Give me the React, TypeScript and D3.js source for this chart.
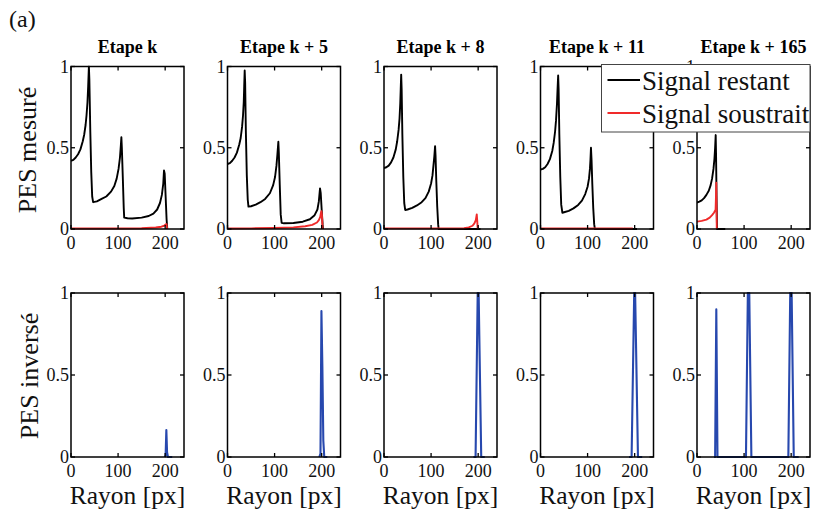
import React from "react";
import * as d3 from "d3";

type Pt = [number, number];

const panelTitles = ["Etape k", "Etape k + 5", "Etape k + 8", "Etape k + 11", "Etape k + 165"];
const xTicks = [0, 100, 200];
const yTicks = [0, 0.5, 1];
const yTickLabels = ["0", "0.5", "1"];
const legendLabels = ["Signal restant", "Signal soustrait"];
const yLabelTop = "PES mesuré";
const yLabelBottom = "PES inversé";
const xLabel = "Rayon [px]";
const figLabel = "(a)";

// Signal restant (black), top row
const restantK: Pt[] = [
  [0, 0.42], [5, 0.425], [10, 0.44], [15, 0.46], [20, 0.49], [25, 0.54], [28, 0.58], [31, 0.64],
  [33, 0.7], [35, 0.78], [36.5, 0.88], [38, 1.0], [39, 0.92], [41, 0.6], [43, 0.35], [45, 0.2],
  [47, 0.165], [55, 0.17], [65, 0.185], [75, 0.2], [85, 0.23], [92, 0.265], [97, 0.31], [101, 0.37],
  [104, 0.44], [106, 0.52], [107, 0.565], [108, 0.5], [110, 0.32], [112, 0.13], [113, 0.07],
  [120, 0.066], [130, 0.065], [150, 0.07], [165, 0.08], [175, 0.095], [183, 0.12], [189, 0.16],
  [193, 0.21], [196, 0.28], [197.5, 0.36], [199, 0.34], [201, 0.2], [203, 0.06], [204.5, 0],
];
const restantK5: Pt[] = [
  [0, 0.4], [5, 0.405], [10, 0.42], [15, 0.44], [20, 0.47], [25, 0.52], [28, 0.56], [31, 0.63],
  [33, 0.7], [34.5, 0.78], [35.5, 0.88], [36.5, 0.975], [37.5, 0.9], [39, 0.6], [41, 0.33],
  [43, 0.18], [44.5, 0.138], [50, 0.14], [60, 0.15], [70, 0.165], [80, 0.185], [90, 0.22],
  [97, 0.27], [101, 0.32], [104, 0.39], [106, 0.46], [108, 0.537], [109, 0.47], [111, 0.27],
  [113, 0.09], [115, 0.038], [120, 0.035], [140, 0.037], [160, 0.045], [175, 0.06], [185, 0.085],
  [191, 0.12], [194, 0.17], [196.5, 0.25], [198, 0.22], [200, 0.12], [202, 0.03], [203, 0],
];
const restantK8: Pt[] = [
  [0, 0.375], [5, 0.38], [10, 0.39], [15, 0.41], [20, 0.44], [25, 0.49], [28, 0.54], [31, 0.61],
  [33, 0.68], [34.5, 0.77], [35.5, 0.86], [36.5, 0.95], [37.5, 0.86], [39, 0.58], [41, 0.32],
  [43, 0.16], [45, 0.117], [50, 0.12], [60, 0.13], [70, 0.145], [80, 0.165], [88, 0.19],
  [95, 0.23], [100, 0.28], [103, 0.33], [105, 0.39], [107, 0.45], [108.5, 0.51], [109.5, 0.45],
  [111, 0.3], [113, 0.14], [115, 0.03], [116, 0], [205, 0],
];
const restantK11: Pt[] = [
  [0, 0.366], [5, 0.37], [10, 0.38], [15, 0.4], [20, 0.43], [25, 0.48], [28, 0.53], [31, 0.6],
  [33, 0.67], [35, 0.77], [36.2, 0.86], [37.5, 0.945], [38.5, 0.86], [40, 0.58], [42, 0.32],
  [44, 0.15], [46.5, 0.1], [50, 0.103], [60, 0.112], [70, 0.127], [80, 0.148], [88, 0.175],
  [95, 0.215], [100, 0.26], [103, 0.31], [105, 0.37], [106.2, 0.43], [107.2, 0.5], [108.5, 0.42],
  [110, 0.28], [112, 0.13], [114, 0.03], [115.5, 0], [205, 0],
];
const restantK165: Pt[] = [
  [0, 0.163], [5, 0.168], [10, 0.176], [15, 0.19], [20, 0.21], [25, 0.235], [29, 0.27],
  [32, 0.31], [35, 0.37], [37, 0.43], [38.5, 0.5], [39.7, 0.578], [40.5, 0.45], [41.5, 0.2],
  [42.5, 0], [60, 0],
];

// Signal soustrait (red), top row
const soustraitK: Pt[] = [
  [0, 0.003], [100, 0.003], [150, 0.005], [180, 0.009], [192, 0.014], [198, 0.02], [201, 0.028],
  [203, 0.03], [204, 0],
];
const soustraitK5: Pt[] = [
  [0, 0.003], [50, 0.004], [100, 0.006], [140, 0.01], [165, 0.017], [180, 0.025], [190, 0.04],
  [194, 0.055], [197, 0.075], [198.5, 0.1], [199.5, 0.11], [200.5, 0.09], [201.5, 0.03], [202, 0],
];
const soustraitK8: Pt[] = [
  [0, 0.004], [100, 0.004], [170, 0.005], [180, 0.01], [188, 0.02], [192, 0.035], [195, 0.055],
  [197, 0.09], [198, 0.05], [199, 0],
];
const soustraitK11: Pt[] = [
  [0, 0.003], [100, 0.003], [196, 0.003],
];
const soustraitK165: Pt[] = [
  [0, 0.045], [10, 0.05], [20, 0.058], [27, 0.07], [32, 0.085], [36, 0.1], [39.5, 0.118],
  [40.3, 0.2], [41, 0.285], [41.6, 0.1], [42, 0],
];

// PES inversé (blue), bottom row
const inverseK: Pt[] = [
  [199, 0], [201, 0.01], [202.5, 0.165], [204, 0.03], [206, 0], [215, 0],
];
const inverseK5: Pt[] = [
  [195, 0], [197.5, 0.02], [199.5, 0.89], [201.5, 0.55], [203.5, 0.1], [205.5, 0], [212, 0],
];
const inverseK8: Pt[] = [
  [190, 0], [194.5, 0], [199, 1.0], [201, 1.0], [206.5, 0], [214, 0],
];
const inverseK11: Pt[] = [
  [188, 0], [193.5, 0], [199, 1.0], [201, 1.0], [207, 0], [216, 0],
];
const inverseK165: Pt[] = [
  [36, 0], [38.5, 0], [41, 0.9], [43.5, 0], [104, 0], [108, 1.0], [111, 1.0], [115.5, 0],
  [194, 0], [198, 1.0], [201, 1.0], [205.5, 0], [216, 0],
];

const restantSeries = [restantK, restantK5, restantK8, restantK11, restantK165];
const soustraitSeries = [soustraitK, soustraitK5, soustraitK8, soustraitK11, soustraitK165];
const inverseSeries = [inverseK, inverseK5, inverseK8, inverseK11, inverseK165];

const W = 813;
const H = 518;
const panelLeft0 = 71;
const panelStep = 156.5;
const panelW = 113;
const rows = [
  { top: 66.5, bottom: 229, tickBase: 249 },
  { top: 293, bottom: 457, tickBase: 477 },
];
const FONT = "Liberation Serif";
const BLACK = "#000";
const RED = "#f02a2a";
const BLUE = "#2748ae";

const tx = (size: number, bold = false): React.CSSProperties => ({
  fontFamily: FONT,
  fontSize: `${size}px`,
  fontWeight: bold ? 700 : 400,
});

function Panel({ idx, row, lines }: { idx: number; row: number; lines: { data: Pt[]; color: string; width: number }[] }) {
  const left = panelLeft0 + idx * panelStep;
  const r = rows[row];
  const x = d3.scaleLinear().domain([0, 240]).range([left, left + panelW]);
  const y = d3.scaleLinear().domain([0, 1]).range([r.bottom, r.top]);
  const line = d3.line<Pt>().x((d) => x(d[0])).y((d) => y(d[1]));
  const clipId = `clip-${row}-${idx}`;
  const tl = 4;
  return (
    <g>
      <defs>
        <clipPath id={clipId}>
          <rect x={left} y={r.top - 1} width={panelW} height={r.bottom - r.top + 2} />
        </clipPath>
      </defs>
      <g clipPath={`url(#${clipId})`}>
        {lines.map((l, i) => (
          <path key={i} d={line(l.data) || ""} fill="none" stroke={l.color} strokeWidth={l.width} strokeLinejoin="round" />
        ))}
      </g>
      <rect x={left} y={r.top} width={panelW} height={r.bottom - r.top} fill="none" stroke="#000" strokeWidth={1.5} />
      {xTicks.map((t) => (
        <g key={`xt${t}`}>
          <line x1={x(t)} x2={x(t)} y1={r.bottom} y2={r.bottom - tl} stroke="#000" strokeWidth={1.3} />
          <line x1={x(t)} x2={x(t)} y1={r.top} y2={r.top + tl} stroke="#000" strokeWidth={1.3} />
          <text x={x(t)} y={r.tickBase} textAnchor="middle" style={tx(18)} fill="#111">{t}</text>
        </g>
      ))}
      {yTicks.map((t, i) => (
        <g key={`yt${t}`}>
          <line x1={left} x2={left + tl} y1={y(t)} y2={y(t)} stroke="#000" strokeWidth={1.3} />
          <line x1={left + panelW} x2={left + panelW - tl} y1={y(t)} y2={y(t)} stroke="#000" strokeWidth={1.3} />
          <text x={left - 2} y={y(t) + 6} textAnchor="end" style={tx(18)} fill="#111">{yTickLabels[i]}</text>
        </g>
      ))}
      {row === 0 && (
        <text x={left + panelW / 2} y={53} textAnchor="middle" style={tx(18, true)} fill="#000">
          {panelTitles[idx]}
        </text>
      )}
      {row === 1 && (
        <text x={left + panelW / 2} y={504} textAnchor="middle" style={tx(25.5)} fill="#111">
          {xLabel}
        </text>
      )}
    </g>
  );
}

export default function App() {
  return (
    <svg width={W} height={H} style={{ position: "absolute", left: 0, top: 0, background: "#fff" }}>
      <rect x={0} y={0} width={W} height={H} fill="#fff" />
      <text x={9} y={27} style={tx(24)} fill="#111">{figLabel}</text>
      <text transform={`translate(36,150) rotate(-90)`} textAnchor="middle" style={tx(26)} fill="#111">
        {yLabelTop}
      </text>
      <text transform={`translate(38,376) rotate(-90)`} textAnchor="middle" style={tx(26)} fill="#111">
        {yLabelBottom}
      </text>
      {restantSeries.map((d, i) => (
        <Panel key={`t${i}`} idx={i} row={0} lines={[
          { data: d, color: BLACK, width: 1.9 },
          { data: soustraitSeries[i], color: RED, width: 1.9 },
        ]} />
      ))}
      {inverseSeries.map((d, i) => (
        <Panel key={`b${i}`} idx={i} row={1} lines={[{ data: d, color: BLUE, width: 2.1 }]} />
      ))}
      <g>
        <rect x={601.5} y={64.5} width={208.5} height={67.5} fill="#fff" stroke="#444" strokeWidth={1} />
        {legendLabels.map((lab, i) => (
          <g key={lab}>
            <line x1={607.5} x2={640} y1={80 + i * 33} y2={80 + i * 33} stroke={i === 0 ? BLACK : RED} strokeWidth={1.8} />
            <text x={642} y={89.5 + i * 33} style={tx(27)} fill="#111">{lab}</text>
          </g>
        ))}
      </g>
    </svg>
  );
}
